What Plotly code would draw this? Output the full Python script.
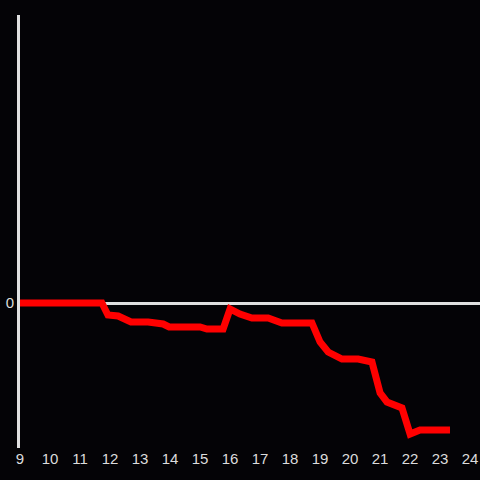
import plotly.graph_objects as go

hours = [9.0, 11.73, 11.93, 12.27, 12.7, 13.27, 13.77, 13.97, 15.0, 15.23, 15.77,
         16.0, 16.33, 16.73, 17.27, 17.73, 18.73, 19.0, 19.27, 19.73, 20.27, 20.73,
         21.0, 21.23, 21.73, 22.0, 22.33, 23.33]
values = [0.0, 0.0, -1.2, -1.3, -1.9, -1.9, -2.1, -2.4, -2.4, -2.6, -2.6,
          -0.6, -1.1, -1.5, -1.5, -2.0, -2.0, -3.9, -4.9, -5.6, -5.6, -5.9,
          -9.0, -9.9, -10.5, -13.1, -12.7, -12.7]
x_ticks = list(range(9, 25))
y_ticks = [0]

fig = go.Figure()
fig.add_trace(go.Scatter(x=hours, y=values, mode="lines",
                         line=dict(color="#ff0000", width=7), showlegend=False,
                         hoverinfo="skip"))

fig.update_layout(
    width=480, height=480,
    margin=dict(l=20, r=0, t=15, b=32),
    paper_bgcolor="#040306", plot_bgcolor="#040306",
    font=dict(family="Liberation Sans, Arial, sans-serif", size=15, color="#dcdcdc"),
)
fig.update_xaxes(range=[9, 24.33], tickvals=x_ticks, ticktext=[str(t) for t in x_ticks],
                 showgrid=False, zeroline=False, showline=False, ticks="",
                 tickfont=dict(color="#dcdcdc", size=15))
fig.update_yaxes(range=[-14.5, 28.8], tickvals=y_ticks, ticktext=["0"],
                 showgrid=False, zeroline=True, zerolinecolor="#e0e0e0", zerolinewidth=3,
                 showline=True, linecolor="#e0e0e0", linewidth=3, ticks="",
                 tickfont=dict(color="#dcdcdc", size=15))

fig.write_html("out.html", config={"displayModeBar": False},
               post_script="document.body.style.margin='0';document.body.style.background='#040306';")
